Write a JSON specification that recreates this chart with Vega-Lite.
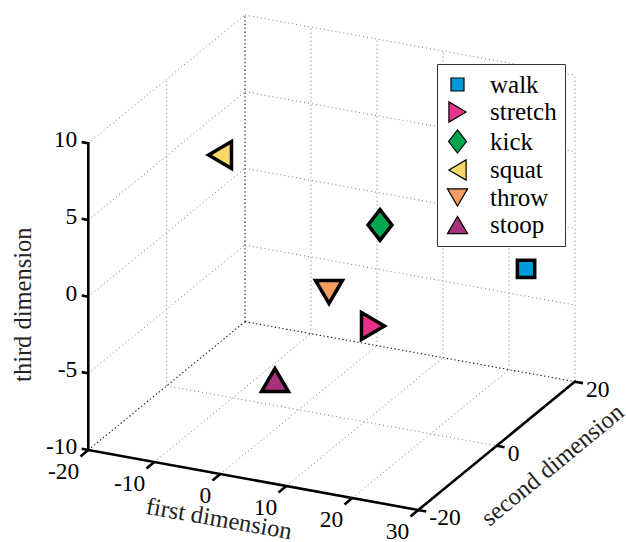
{
  "$schema": "https://vega.github.io/schema/vega-lite/v6.json",
  "width": 626,
  "height": 542,
  "padding": 0,
  "autosize": {"type": "none"},
  "background": "white",
  "config": {"view": {"stroke": null}, "font": "Times New Roman", "text": {"font": "Times New Roman"}, "legend": {"labelFont": "Times New Roman"}},
  "datasets": {
    "points": [
      {"activity": "walk", "x": 28.52, "y": 10, "z": -0.67},
      {"activity": "stretch", "x": 14.23, "y": -5, "z": -2.37},
      {"activity": "kick", "x": 9.36, "y": 5, "z": 1.74},
      {"activity": "squat", "x": -17.85, "y": 10, "z": 3.13},
      {"activity": "throw", "x": 1.63, "y": 5, "z": -3.23},
      {"activity": "stoop", "x": 2.35, "y": -10, "z": -5.78}
    ],
    "grid": [
      {"plane": "left", "x1": -20, "y1": -20, "z1": -5, "x2": -20, "y2": 20, "z2": -5},
      {"plane": "left", "x1": -20, "y1": -20, "z1": 0, "x2": -20, "y2": 20, "z2": 0},
      {"plane": "left", "x1": -20, "y1": -20, "z1": 5, "x2": -20, "y2": 20, "z2": 5},
      {"plane": "left", "x1": -20, "y1": -20, "z1": 10, "x2": -20, "y2": 20, "z2": 10},
      {"plane": "left", "x1": -20, "y1": 0, "z1": -10, "x2": -20, "y2": 0, "z2": 10},
      {"plane": "back", "x1": -10, "y1": 20, "z1": -10, "x2": -10, "y2": 20, "z2": 10},
      {"plane": "back", "x1": 0, "y1": 20, "z1": -10, "x2": 0, "y2": 20, "z2": 10},
      {"plane": "back", "x1": 10, "y1": 20, "z1": -10, "x2": 10, "y2": 20, "z2": 10},
      {"plane": "back", "x1": 20, "y1": 20, "z1": -10, "x2": 20, "y2": 20, "z2": 10},
      {"plane": "back", "x1": 30, "y1": 20, "z1": -10, "x2": 30, "y2": 20, "z2": 10},
      {"plane": "back", "x1": -20, "y1": 20, "z1": -5, "x2": 30, "y2": 20, "z2": -5},
      {"plane": "back", "x1": -20, "y1": 20, "z1": 0, "x2": 30, "y2": 20, "z2": 0},
      {"plane": "back", "x1": -20, "y1": 20, "z1": 5, "x2": 30, "y2": 20, "z2": 5},
      {"plane": "back", "x1": -20, "y1": 20, "z1": 10, "x2": 30, "y2": 20, "z2": 10},
      {"plane": "bottom", "x1": -10, "y1": -20, "z1": -10, "x2": -10, "y2": 20, "z2": -10},
      {"plane": "bottom", "x1": 0, "y1": -20, "z1": -10, "x2": 0, "y2": 20, "z2": -10},
      {"plane": "bottom", "x1": 10, "y1": -20, "z1": -10, "x2": 10, "y2": 20, "z2": -10},
      {"plane": "bottom", "x1": 20, "y1": -20, "z1": -10, "x2": 20, "y2": 20, "z2": -10},
      {"plane": "bottom", "x1": -20, "y1": 0, "z1": -10, "x2": 30, "y2": 0, "z2": -10}
    ],
    "box": [
      {"x1": -20, "y1": -20, "z1": -10, "x2": -20, "y2": 20, "z2": -10},
      {"x1": -20, "y1": 20, "z1": -10, "x2": -20, "y2": 20, "z2": 10},
      {"x1": -20, "y1": 20, "z1": -10, "x2": 30, "y2": 20, "z2": -10}
    ],
    "axes": [
      {"axis": "first", "x1": -20, "y1": -20, "z1": -10, "x2": 30, "y2": -20, "z2": -10},
      {"axis": "second", "x1": 30, "y1": -20, "z1": -10, "x2": 30, "y2": 20, "z2": -10},
      {"axis": "third", "x1": -20, "y1": -20, "z1": -10, "x2": -20, "y2": -20, "z2": 10}
    ],
    "ticks": [
      {"axis": "first", "label": "-20", "x": -20, "y": -20, "z": -10},
      {"axis": "first", "label": "-10", "x": -10, "y": -20, "z": -10},
      {"axis": "first", "label": "0", "x": 0, "y": -20, "z": -10},
      {"axis": "first", "label": "10", "x": 10, "y": -20, "z": -10},
      {"axis": "first", "label": "20", "x": 20, "y": -20, "z": -10},
      {"axis": "first", "label": "30", "x": 30, "y": -20, "z": -10},
      {"axis": "second", "label": "-20", "x": 30, "y": -20, "z": -10},
      {"axis": "second", "label": "0", "x": 30, "y": 0, "z": -10},
      {"axis": "second", "label": "20", "x": 30, "y": 20, "z": -10},
      {"axis": "third", "label": "-10", "x": -20, "y": -20, "z": -10},
      {"axis": "third", "label": "-5", "x": -20, "y": -20, "z": -5},
      {"axis": "third", "label": "0", "x": -20, "y": -20, "z": 0},
      {"axis": "third", "label": "5", "x": -20, "y": -20, "z": 5},
      {"axis": "third", "label": "10", "x": -20, "y": -20, "z": 10}
    ],
    "titles": [
      {"axis": "first", "label": "first dimension", "x": 5, "y": -20, "z": -10},
      {"axis": "second", "label": "second dimension", "x": 30, "y": 0, "z": -10},
      {"axis": "third", "label": "third dimension", "x": -20, "y": -20, "z": 0}
    ]
  },
  "layer": [
    {
      "data": {"name": "grid"},
      "transform": [
        {"calculate": "88.3 + (datum.x1 + 20) * 6.6 + (datum.y1 + 20) * 3.917", "as": "u1"},
        {"calculate": "450 + (datum.x1 + 20) * 1.2 - (datum.y1 + 20) * 3.208 - (datum.z1 + 10) * 15.333", "as": "v1"},
        {"calculate": "88.3 + (datum.x2 + 20) * 6.6 + (datum.y2 + 20) * 3.917", "as": "u2"},
        {"calculate": "450 + (datum.x2 + 20) * 1.2 - (datum.y2 + 20) * 3.208 - (datum.z2 + 10) * 15.333", "as": "v2"}
      ],
      "mark": {"type": "rule", "stroke": "#7a7a7a", "strokeWidth": 1, "strokeDash": [1, 3]},
      "encoding": {
        "x": {"field": "u1", "type": "quantitative", "scale": {"domain": [0, 626], "nice": false, "zero": false}, "axis": null},
        "y": {"field": "v1", "type": "quantitative", "scale": {"domain": [0, 542], "nice": false, "zero": false, "reverse": true}, "axis": null},
        "x2": {"field": "u2"},
        "y2": {"field": "v2"}
      }
    },
    {
      "data": {"name": "box"},
      "transform": [
        {"calculate": "88.3 + (datum.x1 + 20) * 6.6 + (datum.y1 + 20) * 3.917", "as": "u1"},
        {"calculate": "450 + (datum.x1 + 20) * 1.2 - (datum.y1 + 20) * 3.208 - (datum.z1 + 10) * 15.333", "as": "v1"},
        {"calculate": "88.3 + (datum.x2 + 20) * 6.6 + (datum.y2 + 20) * 3.917", "as": "u2"},
        {"calculate": "450 + (datum.x2 + 20) * 1.2 - (datum.y2 + 20) * 3.208 - (datum.z2 + 10) * 15.333", "as": "v2"}
      ],
      "mark": {"type": "rule", "stroke": "#111111", "strokeWidth": 1.1, "strokeDash": [1.3, 2.5]},
      "encoding": {
        "x": {"field": "u1", "type": "quantitative", "axis": null},
        "y": {"field": "v1", "type": "quantitative", "axis": null},
        "x2": {"field": "u2"},
        "y2": {"field": "v2"}
      }
    },
    {
      "data": {"name": "axes"},
      "transform": [
        {"calculate": "88.3 + (datum.x1 + 20) * 6.6 + (datum.y1 + 20) * 3.917", "as": "u1"},
        {"calculate": "450 + (datum.x1 + 20) * 1.2 - (datum.y1 + 20) * 3.208 - (datum.z1 + 10) * 15.333", "as": "v1"},
        {"calculate": "88.3 + (datum.x2 + 20) * 6.6 + (datum.y2 + 20) * 3.917", "as": "u2"},
        {"calculate": "450 + (datum.x2 + 20) * 1.2 - (datum.y2 + 20) * 3.208 - (datum.z2 + 10) * 15.333", "as": "v2"}
      ],
      "mark": {"type": "rule", "stroke": "black", "strokeWidth": 2.6, "strokeCap": "square"},
      "encoding": {
        "x": {"field": "u1", "type": "quantitative", "axis": null},
        "y": {"field": "v1", "type": "quantitative", "axis": null},
        "x2": {"field": "u2"},
        "y2": {"field": "v2"}
      }
    },
    {
      "data": {"name": "ticks"},
      "transform": [
        {"calculate": "datum.axis == 'third' ? datum.x - 1 : (datum.axis == 'second' ? datum.x + 1.2 : datum.x)", "as": "xe"},
        {"calculate": "datum.axis == 'first' ? datum.y - 2 : datum.y", "as": "ye"},
        {"calculate": "88.3 + (datum.x + 20) * 6.6 + (datum.y + 20) * 3.917", "as": "u"},
        {"calculate": "450 + (datum.x + 20) * 1.2 - (datum.y + 20) * 3.208 - (datum.z + 10) * 15.333", "as": "v"},
        {"calculate": "88.3 + (datum.xe + 20) * 6.6 + (datum.ye + 20) * 3.917", "as": "ue"},
        {"calculate": "450 + (datum.xe + 20) * 1.2 - (datum.ye + 20) * 3.208 - (datum.z + 10) * 15.333", "as": "ve"}
      ],
      "mark": {"type": "rule", "stroke": "black", "strokeWidth": 2.6},
      "encoding": {
        "x": {"field": "u", "type": "quantitative", "axis": null},
        "y": {"field": "v", "type": "quantitative", "axis": null},
        "x2": {"field": "ue"},
        "y2": {"field": "ve"}
      }
    },
    {
      "data": {"name": "ticks"},
      "transform": [
        {"filter": "datum.axis == 'first'"},
        {"calculate": "88.3 + (datum.x + 20) * 6.6 + (datum.y + 20) * 3.917", "as": "u"},
        {"calculate": "450 + (datum.x + 20) * 1.2 - (datum.y + 20) * 3.208 - (datum.z + 10) * 15.333", "as": "v"}
      ],
      "mark": {"type": "text", "font": "Times New Roman", "fontSize": 23.5, "color": "black", "align": "right", "baseline": "middle", "dx": -9, "dy": 21.5},
      "encoding": {
        "x": {"field": "u", "type": "quantitative", "axis": null},
        "y": {"field": "v", "type": "quantitative", "axis": null},
        "text": {"field": "label", "type": "nominal"}
      }
    },
    {
      "data": {"name": "ticks"},
      "transform": [
        {"filter": "datum.axis == 'second'"},
        {"calculate": "88.3 + (datum.x + 20) * 6.6 + (datum.y + 20) * 3.917", "as": "u"},
        {"calculate": "450 + (datum.x + 20) * 1.2 - (datum.y + 20) * 3.208 - (datum.z + 10) * 15.333", "as": "v"}
      ],
      "mark": {"type": "text", "font": "Times New Roman", "fontSize": 23.5, "color": "black", "align": "left", "baseline": "middle", "dx": 11, "dy": 8},
      "encoding": {
        "x": {"field": "u", "type": "quantitative", "axis": null},
        "y": {"field": "v", "type": "quantitative", "axis": null},
        "text": {"field": "label", "type": "nominal"}
      }
    },
    {
      "data": {"name": "ticks"},
      "transform": [
        {"filter": "datum.axis == 'third'"},
        {"calculate": "88.3 + (datum.x + 20) * 6.6 + (datum.y + 20) * 3.917", "as": "u"},
        {"calculate": "450 + (datum.x + 20) * 1.2 - (datum.y + 20) * 3.208 - (datum.z + 10) * 15.333", "as": "v"}
      ],
      "mark": {"type": "text", "font": "Times New Roman", "fontSize": 23.5, "color": "black", "align": "right", "baseline": "middle", "dx": -11, "dy": -3},
      "encoding": {
        "x": {"field": "u", "type": "quantitative", "axis": null},
        "y": {"field": "v", "type": "quantitative", "axis": null},
        "text": {"field": "label", "type": "nominal"}
      }
    },
    {
      "data": {"name": "titles"},
      "transform": [
        {"filter": "datum.axis == 'first'"},
        {"calculate": "88.3 + (datum.x + 20) * 6.6 + (datum.y + 20) * 3.917", "as": "u"},
        {"calculate": "450 + (datum.x + 20) * 1.2 - (datum.y + 20) * 3.208 - (datum.z + 10) * 15.333", "as": "v"}
      ],
      "mark": {"type": "text", "font": "Times New Roman", "fontSize": 24.5, "color": "#222222", "align": "center", "baseline": "middle", "angle": 10, "dx": -27, "dy": 45},
      "encoding": {
        "x": {"field": "u", "type": "quantitative", "axis": null},
        "y": {"field": "v", "type": "quantitative", "axis": null},
        "text": {"field": "label", "type": "nominal"}
      }
    },
    {
      "data": {"name": "titles"},
      "transform": [
        {"filter": "datum.axis == 'second'"},
        {"calculate": "88.3 + (datum.x + 20) * 6.6 + (datum.y + 20) * 3.917", "as": "u"},
        {"calculate": "450 + (datum.x + 20) * 1.2 - (datum.y + 20) * 3.208 - (datum.z + 10) * 15.333", "as": "v"}
      ],
      "mark": {"type": "text", "font": "Times New Roman", "fontSize": 24.5, "color": "#222222", "align": "center", "baseline": "middle", "angle": 320.5, "dx": 31, "dy": 51},
      "encoding": {
        "x": {"field": "u", "type": "quantitative", "axis": null},
        "y": {"field": "v", "type": "quantitative", "axis": null},
        "text": {"field": "label", "type": "nominal"}
      }
    },
    {
      "data": {"name": "titles"},
      "transform": [
        {"filter": "datum.axis == 'third'"},
        {"calculate": "88.3 + (datum.x + 20) * 6.6 + (datum.y + 20) * 3.917", "as": "u"},
        {"calculate": "450 + (datum.x + 20) * 1.2 - (datum.y + 20) * 3.208 - (datum.z + 10) * 15.333", "as": "v"}
      ],
      "mark": {"type": "text", "font": "Times New Roman", "fontSize": 24.5, "color": "#222222", "align": "center", "baseline": "middle", "angle": 270, "dx": -8, "dy": -64},
      "encoding": {
        "x": {"field": "u", "type": "quantitative", "axis": null},
        "y": {"field": "v", "type": "quantitative", "axis": null},
        "text": {"field": "label", "type": "nominal"}
      }
    },
    {
      "data": {"name": "points"},
      "transform": [
        {"calculate": "88.3 + (datum.x + 20) * 6.6 + (datum.y + 20) * 3.917", "as": "u"},
        {"calculate": "450 + (datum.x + 20) * 1.2 - (datum.y + 20) * 3.208 - (datum.z + 10) * 15.333", "as": "v"}
      ],
      "mark": {"type": "point", "filled": true, "opacity": 1, "strokeWidth": 3.5, "strokeJoin": "miter", "strokeMiterLimit": 10, "size": 784},
      "encoding": {
        "x": {"field": "u", "type": "quantitative", "axis": null},
        "y": {"field": "v", "type": "quantitative", "axis": null},
        "fill": {
          "field": "activity", "type": "nominal",
          "scale": {"domain": ["walk", "stretch", "kick", "squat", "throw", "stoop"], "range": ["#0098d8", "#e8318a", "#00a550", "#f7d868", "#f69d62", "#a8317c"]},
          "legend": {"title": null, "orient": "none", "legendX": 437, "legendY": 64, "padding": 8, "strokeColor": "#333333", "fillColor": "white", "labelFont": "Times New Roman", "labelFontSize": 25, "labelColor": "black", "labelOffset": 20, "labelLimit": 300, "symbolSize": 441, "symbolStrokeWidth": 1.2, "symbolOpacity": 1, "rowPadding": 1.5}
        },
        "stroke": {
          "field": "activity", "type": "nominal",
          "scale": {"domain": ["walk", "stretch", "kick", "squat", "throw", "stoop"], "range": ["#000000", "#000000", "#000000", "#000000", "#000000", "#000000"]},
          "legend": {"title": null, "orient": "none", "legendX": 437, "legendY": 64, "padding": 8, "strokeColor": "#333333", "fillColor": "white", "labelFont": "Times New Roman", "labelFontSize": 25, "labelColor": "black", "labelOffset": 20, "labelLimit": 300, "symbolSize": 441, "symbolStrokeWidth": 1.2, "symbolOpacity": 1, "rowPadding": 1.5}
        },
        "shape": {
          "field": "activity", "type": "nominal",
          "scale": {"domain": ["walk", "stretch", "kick", "squat", "throw", "stoop"], "range": ["M-0.62,-0.62L0.62,-0.62L0.62,0.62L-0.62,0.62Z", "M0.82,0L-0.82,-0.96L-0.82,0.96Z", "M0,-1.1L0.85,0L0,1.1L-0.85,0Z", "M-0.82,0L0.82,-0.96L0.82,0.96Z", "M0,0.82L-0.96,-0.82L0.96,-0.82Z", "M0,-0.82L0.96,0.82L-0.96,0.82Z"]},
          "legend": {"title": null, "orient": "none", "legendX": 437, "legendY": 64, "padding": 8, "strokeColor": "#333333", "fillColor": "white", "labelFont": "Times New Roman", "labelFontSize": 25, "labelColor": "black", "labelOffset": 20, "labelLimit": 300, "symbolSize": 441, "symbolStrokeWidth": 1.2, "symbolOpacity": 1, "rowPadding": 1.5}
        }
      }
    }
  ]
}
